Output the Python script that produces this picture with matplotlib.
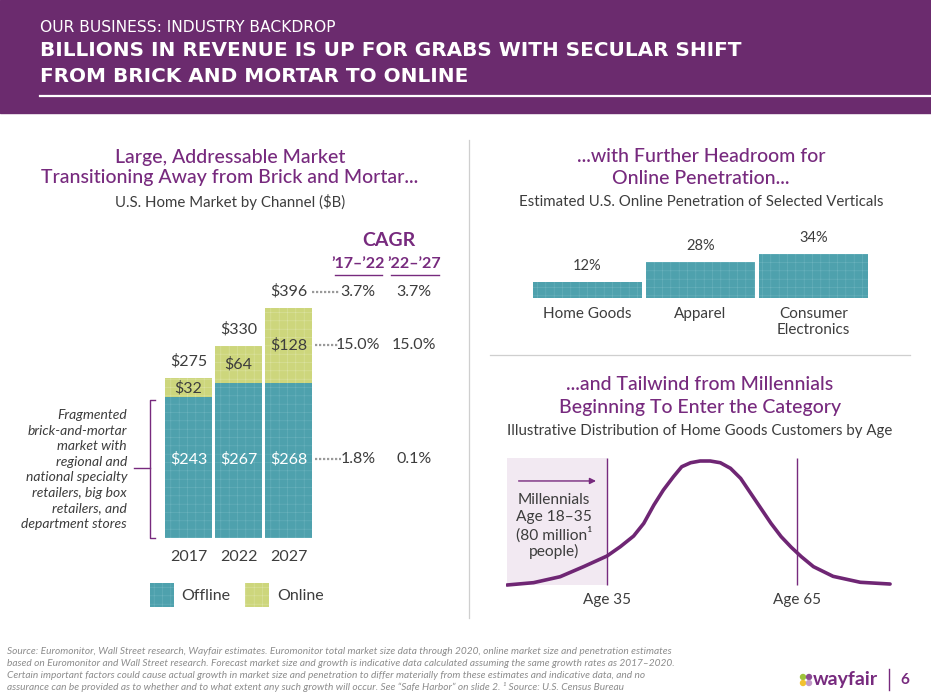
import matplotlib
matplotlib.use('Agg')
from matplotlib import pyplot as plt
import numpy as np

plt.rcParams['font.family'] = ['Lato', 'DejaVu Sans']
plt.rcParams['hatch.linewidth'] = 0.4

# left panel: U.S. home market by channel ($B)
years = ['2017', '2022', '2027']
offline = [243, 267, 268]
online = [32, 64, 128]
totals = [275, 330, 396]
cagr_17_22 = ['3.7%', '15.0%', '1.8%']   # total, online, offline
cagr_22_27 = ['3.7%', '15.0%', '0.1%']

# right top: online penetration
verticals = ['Home Goods', 'Apparel', 'Consumer\nElectronics']
penetration = [12, 28, 34]

# right bottom: illustrative age distribution
ages = [19.2, 23.4, 27.6, 31.3, 35.0, 37.1, 39.2, 40.8, 42.4, 43.9, 45.5, 46.8,
        48.2, 49.7, 51.3, 52.9, 54.5, 56.1, 57.7, 59.3, 60.9, 62.5, 64.1, 65.7,
        67.6, 70.7, 75.0, 79.7]
share = [0, 1.9, 6.7, 14.8, 23.4, 30.9, 39.5, 49.7, 64.5, 76.6, 87.4, 95.4,
         98.6, 100, 100, 98.6, 94.1, 86.0, 73.9, 61.8, 49.7, 39.0, 30.4, 22.8,
         14.8, 7.0, 2.2, 0.8]

W, H = 931, 698
PURPLE = '#772a7e'
DARK = '#3d3d3d'
TEAL = '#4ea1ad'
TEAL_H = '#6ab2bd'
GREEN = '#cdd67c'
GREEN_H = '#dbe2a0'

fig = plt.figure(figsize=(W / 100, H / 100), dpi=100)


def px_axes(x0, y0, x1, y1):
    a = fig.add_axes([x0 / W, 1 - y1 / H, (x1 - x0) / W, (y1 - y0) / H])
    a.patch.set_alpha(0)
    return a


bg = fig.add_axes([0, 0, 1, 1])
bg.set_xlim(0, W)
bg.set_ylim(H, 0)
bg.axis('off')

# header band
bg.add_patch(plt.Rectangle((0, 0), W, 113, color='#6b2b6e', zorder=0))
bg.plot([40, W], [96, 96], color='white', lw=1.6)
bg.text(40, 28, 'OUR BUSINESS: INDUSTRY BACKDROP', color='white', fontsize=11.2,
        va='center', family='DejaVu Sans')
bg.text(40, 50, 'BILLIONS IN REVENUE IS UP FOR GRABS WITH SECULAR SHIFT',
        color='white', fontsize=14.4, weight='bold', va='center',
        family='DejaVu Sans')
bg.text(40, 76, 'FROM BRICK AND MORTAR TO ONLINE', color='white', fontsize=14.4,
        weight='bold', va='center', family='DejaVu Sans')

# separators
bg.plot([469, 469], [140, 618], color='#cfcfcf', lw=0.9)
bg.plot([490, 910], [355, 355], color='#cfcfcf', lw=0.9)

# section titles
TS = 14
SS = 10.8
bg.text(230, 157, 'Large, Addressable Market', color=PURPLE, fontsize=TS,
        ha='center', va='center', weight='medium')
bg.text(230, 178, 'Transitioning Away from Brick and Mortar...', color=PURPLE,
        fontsize=TS, ha='center', va='center', weight='medium')
bg.text(230, 202, 'U.S. Home Market by Channel ($B)', color=DARK, fontsize=SS,
        ha='center', va='center')
bg.text(701, 157, '...with Further Headroom for', color=PURPLE, fontsize=TS,
        ha='center', va='center', weight='medium')
bg.text(701, 178, 'Online Penetration...', color=PURPLE, fontsize=TS,
        ha='center', va='center', weight='medium')
bg.text(701, 202, 'Estimated U.S. Online Penetration of Selected Verticals',
        color=DARK, fontsize=SS, ha='center', va='center')
bg.text(700, 385, '...and Tailwind from Millennials', color=PURPLE, fontsize=TS,
        ha='center', va='center', weight='medium')
bg.text(700, 407, 'Beginning To Enter the Category', color=PURPLE, fontsize=TS,
        ha='center', va='center', weight='medium')
bg.text(700, 431, 'Illustrative Distribution of Home Goods Customers by Age',
        color=DARK, fontsize=SS, ha='center', va='center')

# ---- stacked bars
LS = 11.5
ax = px_axes(163.5, 248, 313.5, 538)
x = np.arange(len(years))
ax.bar(x, offline, width=0.94, color=TEAL, edgecolor=TEAL_H, hatch='++',
       linewidth=0)
ax.bar(x, online, width=0.94, bottom=offline, color=GREEN, edgecolor=GREEN_H,
       hatch='++', linewidth=0)
ax.set_xlim(-0.5, 2.5)
ax.set_ylim(0, 500)
ax.set_yticks([])
ax.set_xticks(x, years)
ax.tick_params(axis='x', length=0, pad=8.5, labelsize=LS, labelcolor=DARK)
for s in ax.spines.values():
    s.set_visible(False)
for i in range(len(years)):
    ax.text(i, 136, f'${offline[i]}', color='white', fontsize=LS,
            ha='center', va='center')
    ax.text(i, offline[i] + online[i] / 2, f'${online[i]}', color=DARK,
            fontsize=LS, ha='center', va='center')
    ax.annotate(f'${totals[i]}', (i, offline[i] + online[i]), xytext=(0, 12.2),
                textcoords='offset points', ha='center', va='center',
                fontsize=LS, color=DARK)

# CAGR table
rows = [offline[2] + online[2] + 29, offline[2] + online[2] / 2, 136]
lead = [(2.47, 3.03), (2.53, 2.99), (2.53, 3.05)]
for r, (a, b), c1, c2 in zip(rows, lead, cagr_17_22, cagr_22_27):
    ax.plot([a, b], [r, r], color='#9a9a9a', lw=1.6, ls=(0, (1, 0.8)),
            clip_on=False)
    ax.text(3.39, r, c1, color=DARK, fontsize=LS, ha='center', va='center')
    ax.text(4.51, r, c2, color=DARK, fontsize=LS, ha='center', va='center')

bg.text(389, 241, 'CAGR', color=PURPLE, fontsize=14, weight='bold',
        ha='center', va='center')
bg.text(358, 264, '\u201917\u2013\u201922', color=PURPLE, fontsize=11.5,
        weight='bold', ha='center', va='center')
bg.text(414.5, 264, '\u201922\u2013\u201927', color=PURPLE, fontsize=11.5,
        weight='bold', ha='center', va='center')
bg.plot([335, 382], [275, 275], color=PURPLE, lw=1)
bg.plot([391, 439], [275, 275], color=PURPLE, lw=1)

# bracket and note
bg.plot([155, 150, 150, 155], [400, 400, 538, 538], color=PURPLE, lw=1)
bg.plot([134, 150], [468, 468], color=PURPLE, lw=1)
note = ['Fragmented', 'brick-and-mortar', 'market with', 'regional and',
        'national specialty', 'retailers, big box', 'retailers, and',
        'department stores']
for k, line in enumerate(note):
    bg.text(127, 415 + k * 15.6, line, style='italic', fontsize=10, color=DARK,
            ha='right', va='center')

# legend
bg.add_patch(plt.Rectangle((150, 583), 24, 24, facecolor=TEAL,
                           edgecolor=TEAL_H, hatch='++', lw=0))
bg.add_patch(plt.Rectangle((245, 583), 24, 24, facecolor=GREEN,
                           edgecolor=GREEN_H, hatch='++', lw=0))
bg.text(181, 596, 'Offline', fontsize=LS, color=DARK, va='center')
bg.text(277, 596, 'Online', fontsize=LS, color=DARK, va='center')

# ---- penetration bars
ax2 = px_axes(531, 233, 870, 298)
x2 = np.arange(len(verticals))
ax2.bar(x2, penetration, width=0.965, color=TEAL, edgecolor=TEAL_H,
        hatch='++', linewidth=0)
ax2.set_xlim(-0.5, 2.5)
ax2.set_ylim(0, 50)
ax2.set_yticks([])
ax2.set_xticks(x2, verticals)
ax2.tick_params(axis='x', length=0, pad=6.5, labelsize=11, labelcolor=DARK)
for s in ax2.spines.values():
    s.set_visible(False)
for i, v in enumerate(penetration):
    ax2.annotate(f'{v}%', (i, v), xytext=(0, 11.5), textcoords='offset points',
                 ha='center', va='center', fontsize=10.5, color=DARK)

# ---- age curve
ax3 = px_axes(505.7, 454.8, 898.3, 587.5)
ax3.fill_between([ages[0], 35], 0, 102.4, color='#f2e9f2', lw=0)
ax3.vlines([35, 65], 0, 102.4, color=PURPLE, lw=1)
ax3.plot(ages, share, color='#6f2674', lw=2.6, solid_capstyle='round',
         solid_joinstyle='round')
ax3.annotate('', xy=(33.7, 83.9), xytext=(20.6, 83.9),
             arrowprops=dict(arrowstyle='-|>', color=PURPLE, lw=1,
                             mutation_scale=9))
ax3.set_xlim(19, 81)
ax3.set_ylim(-2, 105)
ax3.set_yticks([])
ax3.set_xticks([35, 65], ['Age 35', 'Age 65'])
ax3.tick_params(axis='x', length=0, pad=4, labelsize=11, labelcolor=DARK)
for s in ax3.spines.values():
    s.set_visible(False)
for k, line in enumerate(['Millennials', 'Age 18\u201335', '(80 million\u00b9',
                          'people)']):
    ax3.text(554, 500 + k * 17.3, line, fontsize=11.2, color=DARK, ha='center',
             va='center', transform=bg.transData, clip_on=False)

# footer
foot = [
    'Source: Euromonitor, Wall Street research, Wayfair estimates. Euromonitor total market size data through 2020, online market size and penetration estimates',
    'based on Euromonitor and Wall Street research. Forecast market size and growth is indicative data calculated assuming the same growth rates as 2017\u20132020.',
    'Certain important factors could cause actual growth in market size and penetration to differ materially from these estimates and indicative data, and no',
    'assurance can be provided as to whether and to what extent any such growth will occur. See \u201cSafe Harbor\u201d on slide 2. \u00b9 Source: U.S. Census Bureau',
]
for k, line in enumerate(foot):
    bg.text(7, 651 + k * 12, line, style='italic', fontsize=7.3, color='#8c8c8c',
            va='center')

# logo
for cx, cy, c in [(803, 677, '#9ec33b'), (809, 677, '#8a4a93'),
                  (803, 683, '#f2c230'), (809, 683, '#c29bc9')]:
    bg.add_patch(plt.Circle((cx, cy), 3.2, color=c, lw=0))
bg.text(813, 679, 'wayfair', fontsize=14, weight='bold', color=PURPLE,
        va='center')
bg.plot([889, 889], [669, 690], color=PURPLE, lw=1)
bg.text(905, 680, '6', fontsize=11, weight='bold', color=PURPLE, ha='center',
        va='center')

fig.savefig('out.png', dpi=100)
